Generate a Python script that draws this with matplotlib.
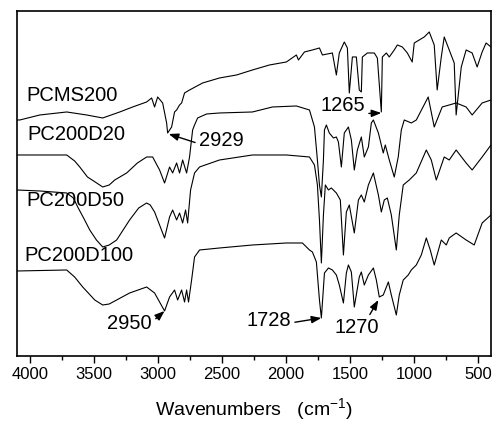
import matplotlib
matplotlib.use("Agg")
import matplotlib.pyplot as plt
from matplotlib.ticker import MultipleLocator

plt.rcParams['font.family'] = ['Liberation Sans', 'DejaVu Sans']
plt.rcParams['mathtext.default'] = 'regular'

# FTIR spectra (wavenumber in cm-1, offset transmittance in arbitrary units)
wn_pcms = [4100, 4078, 3922, 3712, 3556, 3431, 3298, 3197, 3088, 3049, 3026, 3002,
           2963, 2932, 2924, 2893, 2870, 2854, 2831, 2815, 2792, 2753, 2651, 2519,
           2386, 2262, 2129, 1997, 1919, 1903, 1856, 1794, 1739, 1716, 1638, 1607,
           1584, 1545, 1521, 1506, 1482, 1451, 1428, 1412, 1404, 1365, 1311, 1287,
           1256, 1248, 1217, 1194, 1155, 1131, 1092, 1053, 1015, 999, 960, 921,
           882, 843, 820, 788, 765, 726, 687, 672, 632, 594, 547, 508, 469, 438, 400]
t_pcms = [236, 236, 241, 244, 241, 238, 244, 249, 254, 258, 249, 259,
          253, 233, 223, 229, 244, 246, 251, 253, 263, 266, 273, 278,
          281, 286, 291, 294, 301, 296, 304, 306, 308, 301, 303, 281,
          303, 314, 308, 263, 299, 299, 266, 264, 299, 303, 303, 298,
          244, 299, 303, 299, 306, 311, 309, 303, 294, 313, 316, 319,
          324, 311, 266, 299, 319, 306, 293, 241, 289, 306, 303, 289, 304, 313, 309]

wn_d20 = [4100, 3922, 3712, 3650, 3610, 3550, 3478, 3431, 3380, 3337, 3244, 3160,
          3088, 3041, 2987, 2948,
          2909, 2885, 2854, 2831, 2807, 2776, 2753, 2729, 2714, 2690, 2620, 2519,
          2262, 2106, 1919, 1817, 1778, 1755, 1739, 1724, 1708, 1700, 1685, 1662,
          1630, 1607, 1591, 1568, 1545, 1513, 1490, 1467, 1443, 1412, 1389, 1357,
          1334, 1318, 1279, 1241, 1225, 1194, 1155, 1124, 1100, 1077, 1022, 983,
          890, 843, 781, 726, 672, 594, 547, 469, 400]
t_d20 = [201, 201, 201, 195, 189, 179, 173, 169, 171, 176, 183, 193,
         199, 199, 186, 173,
         189, 183, 193, 183, 196, 183, 199, 226, 231, 238, 242, 243,
         244, 249, 250, 246, 229, 196, 171, 159, 196, 226, 231, 223,
         218, 219, 214, 189, 223, 229, 216, 186, 206, 219, 199, 209,
         233, 236, 223, 203, 211, 196, 179, 199, 226, 236, 233, 236,
         259, 229, 249, 251, 253, 249, 241, 253, 256]

wn_d50 = [4100, 3922, 3712, 3660, 3626, 3580, 3532, 3480, 3431, 3380, 3322, 3221,
          3150, 3088, 3060, 3026, 2948, 2909,
          2885, 2854, 2831, 2807, 2784, 2768, 2745, 2714, 2675, 2519, 2262, 1997,
          1817, 1778, 1755, 1739, 1724, 1708, 1693, 1669, 1646, 1607, 1576, 1552,
          1529, 1506, 1467, 1435, 1412, 1389, 1357, 1318, 1279, 1256, 1233, 1209,
          1178, 1139, 1116, 1085, 1038, 983, 905, 866, 827, 765, 726, 672, 594,
          547, 469, 400]
t_d50 = [166, 165, 163, 158, 149, 138, 126, 116, 109, 111, 116, 136,
         148, 153, 151, 144, 118, 139,
         146, 136, 143, 133, 146, 133, 166, 183, 189, 196, 201, 201,
         199, 191, 171, 136, 93, 141, 171, 166, 168, 163, 156, 101,
         144, 151, 123, 156, 161, 154, 171, 183, 161, 144, 156, 158,
         141, 106, 141, 171, 176, 183, 206, 196, 176, 199, 196, 206, 193,
         186, 199, 211]

wn_d100 = [4100, 3712, 3650, 3587, 3493, 3431, 3380, 3322, 3221, 3088, 3026, 2948,
           2909, 2870,
           2846, 2815, 2792, 2776, 2761, 2737, 2714, 2675, 2519, 2262, 1997, 1872,
           1817, 1794, 1763, 1739, 1724, 1700, 1669, 1638, 1607, 1584, 1552, 1529,
           1513, 1490, 1467, 1428, 1412, 1389, 1357, 1318, 1295, 1272, 1241, 1201,
           1178, 1139, 1116, 1085, 1046, 1022, 983, 944, 905, 874, 843, 788, 749,
           726, 672, 594, 531, 469, 400]
t_d100 = [85, 86, 79, 69, 56, 51, 52, 56, 63, 69, 63, 45,
          59, 66,
          56, 66, 54, 66, 54, 76, 99, 106, 108, 111, 113, 113,
          106, 104, 94, 56, 38, 83, 88, 86, 81, 71, 53, 83,
          91, 84, 49, 79, 84, 71, 81, 88, 76, 59, 61, 74,
          61, 41, 61, 76, 81, 86, 91, 101, 118, 106, 91, 116, 111,
          118, 123, 116, 111, 133, 141]

fig = plt.figure(figsize=(4.94, 4.22), dpi=100)
ax = fig.add_axes([0.0344, 0.1564, 0.9595, 0.8176])

for w, t in [(wn_pcms, t_pcms), (wn_d20, t_d20), (wn_d50, t_d50), (wn_d100, t_d100)]:
    ax.plot(w, t, color='black', lw=0.8)

ax.set_xlim(4100, 400)
ax.set_ylim(0, 345)
ax.set_yticks([])
ax.xaxis.set_major_locator(MultipleLocator(500))
ax.xaxis.set_minor_locator(MultipleLocator(250))
ax.tick_params(axis='x', which='major', direction='out', length=5, width=1, labelsize=12, pad=3)
ax.tick_params(axis='x', which='minor', direction='out', length=3, width=1)
for s in ax.spines.values():
    s.set_linewidth(1.2)

ax.set_xlabel('Wavenumbers   (cm$^{-1}$)', fontsize=14, labelpad=10)

# sample names
fs = 14.5
ax.text(4023, 260, 'PCMS200', fontsize=fs, va='center', ha='left')
ax.text(4016, 221, 'PC200D20', fontsize=fs, va='center', ha='left')
ax.text(4023, 155, 'PC200D50', fontsize=fs, va='center', ha='left')
ax.text(4039, 100, 'PC200D100', fontsize=fs, va='center', ha='left')

# peak annotations
arr = dict(arrowstyle='-|>,head_length=0.4,head_width=0.15', color='black', lw=1,
           shrinkA=1, shrinkB=0)
ax.annotate('2929', xy=(2916, 222), xytext=(2503, 215), fontsize=fs, ha='center', va='center',
            arrowprops=dict(arr, relpos=(0, 0.35)))
ax.annotate('2950', xy=(2948, 45), xytext=(3221, 32), fontsize=fs, ha='center', va='center',
            arrowprops=dict(arr, relpos=(1, 0.6)))
ax.annotate('1728', xy=(1724, 38), xytext=(2137, 35), fontsize=fs, ha='center', va='center',
            arrowprops=dict(arr, relpos=(1, 0.4)))
ax.annotate('1270', xy=(1279, 56), xytext=(1451, 28), fontsize=fs, ha='center', va='center',
            arrowprops=dict(arr, relpos=(0.75, 1)))
ax.annotate('1265', xy=(1256, 243), xytext=(1560, 250), fontsize=fs, ha='center', va='center',
            arrowprops=dict(arr, relpos=(1, 0.1)))

fig.savefig('out.png', dpi=100)
